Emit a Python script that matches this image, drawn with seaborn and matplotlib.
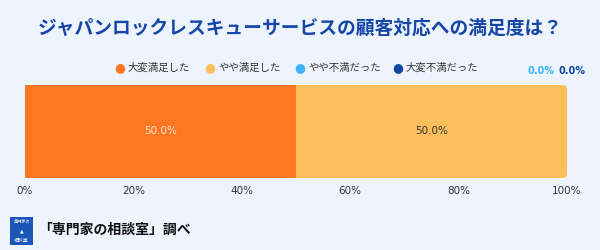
import matplotlib
matplotlib.use("Agg")
import matplotlib.pyplot as plt
import seaborn as sns
import pandas as pd
from matplotlib.patches import FancyBboxPatch, Rectangle

title = "ジャパンロックレスキューサービスの顧客対応への満足度は？"
categories = ["大変満足した", "やや満足した", "やや不満だった", "大変不満だった"]
values = [50.0, 50.0, 0.0, 0.0]
colors = ["#FF7722", "#FFBE5C", "#3DB5FA", "#0D47A1"]
label_colors = ["#FFE6D2", "#333333", "#333333", "#FFFFFF"]
tick_labels = ["0%", "20%", "40%", "60%", "80%", "100%"]
source = "「専門家の相談室」調べ"

BG = "#EEF4FE"
sns.set_theme(style="white")
plt.rcParams["font.family"] = ["Noto Sans CJK JP", "DejaVu Sans"]

fig = plt.figure(figsize=(6, 2.5), dpi=100, facecolor=BG)
ax_w_px, ax_h_px = 567 - 25, 178 - 85
ax = fig.add_axes([25/600, 1-178/250, ax_w_px/600, ax_h_px/250])
ax.set_facecolor(BG)

cum = []
s = 0
for v in values:
    s += v
    cum.append(s)

# stacked via cumulative overlay (largest first); zero-width segments skipped
for i in range(len(values) - 1, -1, -1):
    if values[i] <= 0:
        continue
    df = pd.DataFrame({"row": [""], "val": [cum[i]]})
    sns.barplot(data=df, x="val", y="row", orient="h", color=colors[i],
                saturation=1, width=1.0, ax=ax, linewidth=0, edgecolor="none")

ax.set_xlim(0, 100)
ax.set_ylim(0.5, -0.5)

# rounded right end via clip path (left end extends beyond axes)
px_per_x = ax_w_px / 100
r_px = 4
clip = FancyBboxPatch((-10, -0.5), 110, 1.0,
                      boxstyle=f"round,pad=0,rounding_size={r_px/px_per_x}",
                      mutation_aspect=(1/ax_h_px) / (1/px_per_x),
                      transform=ax.transData, facecolor="none", edgecolor="none")
ax.add_patch(clip)
clip.set_clip_on(False)
for p in ax.patches:
    if p is not clip:
        p.set_clip_path(clip)

# segment labels
start = 0
for i, v in enumerate(values):
    if v > 0:
        ax.text(start + v / 2, 0, f"{v:.1f}%", ha="center", va="center",
                fontsize=7.5, color=label_colors[i], family=["DejaVu Sans"])
    start += v

ax.set_xticks([0, 20, 40, 60, 80, 100])
ax.set_xticklabels(tick_labels, fontsize=7.5, color="#333333", family=["DejaVu Sans"])
ax.tick_params(axis="x", length=0, pad=6)
ax.set_yticks([])
ax.set_xlabel("")
ax.set_ylabel("")
for sp in ax.spines.values():
    sp.set_visible(False)

# title
fig.text(0.5, 1 - 28/250, title, ha="center", va="center", fontsize=13.5,
         fontweight="bold", color="#1546A8")

# legend row
lx = [120, 210, 300, 398]
for i, c in enumerate(categories):
    fig.text(lx[i]/600, 1 - 68/250, "●", ha="center", va="center",
             fontsize=9, color=colors[i], family=["DejaVu Sans"])
    fig.text((lx[i] + 8)/600, 1 - 68/250, c, ha="left", va="center",
             fontsize=7.5, color="#333333")

# zero value labels
fig.text(541/600, 1 - 71/250, f"{values[2]:.1f}%", ha="center", va="center",
         fontsize=7, fontweight="bold", color=colors[2], family=["DejaVu Sans"])
fig.text(572/600, 1 - 71/250, f"{values[3]:.1f}%", ha="center", va="center",
         fontsize=7, fontweight="bold", color=colors[3], family=["DejaVu Sans"])

# source logo
fig.patches.append(Rectangle((10/600, 1 - 245/250), 23/600, 28/250,
                             transform=fig.transFigure, facecolor="#1A56B8",
                             edgecolor="none"))
fig.text(21.5/600, 1 - 222/250, "専門家の", ha="center", va="center",
         fontsize=3, color="white")
fig.text(21.5/600, 1 - 231/250, "▲", ha="center", va="center",
         fontsize=3.5, color="white", family=["DejaVu Sans"])
fig.text(21.5/600, 1 - 240/250, "相談室", ha="center", va="center",
         fontsize=3.5, color="white")
fig.text(38/600, 1 - 230/250, source, ha="left", va="center",
         fontsize=10, fontweight="bold", color="#111111")

fig.savefig("out.png", dpi=100, facecolor=BG)
